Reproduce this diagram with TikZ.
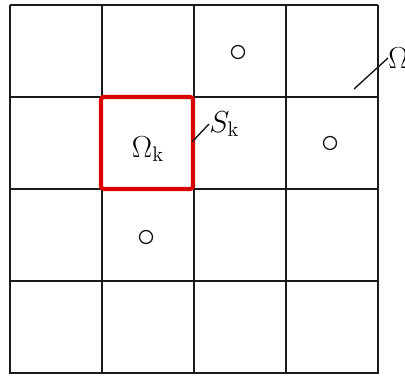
\documentclass[tikz,border=0pt]{standalone}
\usepackage{tikz}
\usetikzlibrary{positioning}
\definecolor{CellRed}{HTML}{D80000}
\definecolor{GridInk}{HTML}{1A1A1A}

\begin{document}
\begin{tikzpicture}[x=0.02cm,y=-0.02cm]
  \tikzstyle{gridline}=[line width=1.1pt, draw=GridInk]
  \tikzstyle{dot}=[circle, draw=GridInk, line width=0.75pt, minimum size=0.26cm, inner sep=0pt]
  \tikzstyle{lbl}=[font=\fontsize{17}{20}\selectfont, inner sep=0pt]
  \tikzstyle{leader}=[line width=0.8pt, draw=GridInk]
  \useasboundingbox (0,0) rectangle (405,377);
  \fill[white] (0,0) rectangle (405,377);
  % 4x4 mesh
  \foreach \i in {0,...,4} {
    \draw[gridline] (10+92*\i,5) -- (10+92*\i,374);
    \draw[gridline] (10,5+92*\i) -- (378,5+92*\i);
  }
  % highlighted subdomain
  \node[draw=CellRed, line width=2.3pt, rounded corners=1.5pt, minimum size=1.84cm, inner sep=0pt] (sub) at (147,143) {};
  \node[lbl] (omk) at (148,149) {$\Omega_{\mathrm{k}}$};
  \node[lbl, anchor=west] (sk) at (209,124) {$S_{\mathrm{k}}$};
  \node[lbl, anchor=west] (om) at (388,58) {$\Omega$};
  \node[dot] (d1) at (238,52) {};
  \node[dot] (d2) at (330,143) {};
  \node[dot] (d3) at (146,237) {};
  \coordinate (skfoot) at (192,142);
  \coordinate (omfoot) at (354,89);
  \draw[leader] (skfoot) -- (sk.west);
  \draw[leader] (omfoot) -- (om.west);
\end{tikzpicture}
\end{document}
